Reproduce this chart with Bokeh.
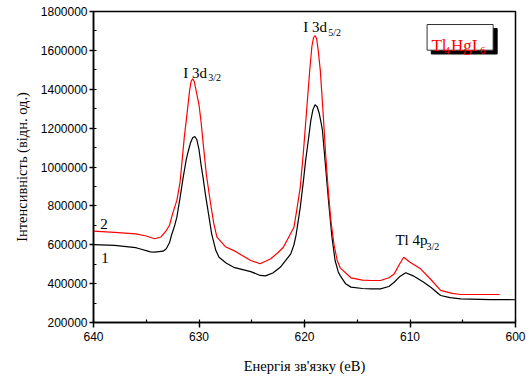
from bokeh.plotting import figure
from bokeh.models import Range1d, SingleIntervalTicker, BasicTickFormatter, Label, BoxAnnotation
from bokeh.embed import file_html
from bokeh.resources import INLINE

# ---- data (binding energy, eV ; intensity, arb. units) ----
energy_1 = [640, 638, 636, 635.8, 634.6, 634.2, 633.4, 633.1, 632.8, 632.6, 632.3, 632.1, 631.8,
            631.5, 631.2, 631.0, 630.8, 630.6, 630.4, 630.2, 630.0, 629.8, 629.6, 629.4, 629.1,
            628.8, 628.4, 628.1, 627.4, 626.7, 625.1, 624.2, 623.7, 623.0, 622.3, 621.3, 621.0,
            620.8, 620.6, 620.4, 620.1, 619.9, 619.6, 619.4, 619.2, 619.0, 618.8, 618.6, 618.4,
            618.3, 618.0, 617.7, 617.4, 617.1, 616.8, 616.6, 616.1, 615.6, 614.5, 613.7, 612.8,
            612.0, 611.5, 611.0, 610.4, 609.7, 608.7, 608.0, 607.1, 606.2, 605.2, 602.4, 600]
intensity_1 = [601000, 597000, 585000, 582000, 563000, 562000, 567000, 579000, 610000, 650000,
               700000, 742000, 840000, 947000, 1040000, 1085000, 1125000, 1150000, 1157000,
               1140000, 1090000, 1010000, 940000, 862000, 760000, 656000, 570000, 536000,
               505000, 484000, 462000, 442000, 440000, 455000, 484000, 553000, 600000, 650000,
               720000, 793000, 930000, 1030000, 1153000, 1240000, 1295000, 1320000, 1310000,
               1275000, 1220000, 1188000, 1000000, 811000, 640000, 519000, 460000, 440000,
               399000, 382000, 375000, 373000, 373000, 385000, 407000, 435000, 456000, 440000,
               407000, 380000, 339000, 328000, 322000, 318000, 317000]

energy_2 = [640, 638, 636, 635.0, 634.2, 633.6, 633.1, 632.8, 632.5, 632.1, 631.8, 631.6, 631.4,
            631.1, 630.9, 630.75, 630.6, 630.45, 630.3, 630.0, 629.8, 629.6, 629.3, 628.9, 628.6,
            628.3, 627.5, 626.7, 625.1, 624.2, 623.2, 622.5, 622.0, 621.0, 620.7, 620.4, 620.1,
            619.9, 619.75, 619.5, 619.3, 619.15, 619.0, 618.85, 618.7, 618.5, 618.25, 618.0,
            617.75, 617.5, 617.2, 616.9, 616.6, 615.6, 614.5, 613.7, 612.8, 612.0, 611.5, 611.0,
            610.6, 610.0, 609.0, 608.0, 607.1, 606.0, 605.2, 603.0, 601.5]
intensity_2 = [670000, 664000, 656000, 645000, 631000, 640000, 673000, 700000, 760000, 828000,
               920000, 1033000, 1150000, 1290000, 1390000, 1440000, 1454000, 1440000, 1400000,
               1320000, 1230000, 1119000, 960000, 811000, 710000, 639000, 590000, 570000,
               519000, 502000, 528000, 560000, 587000, 690000, 790000, 896000, 1080000, 1220000,
               1325000, 1500000, 1620000, 1665000, 1676000, 1660000, 1600000, 1496000, 1290000,
               1068000, 880000, 725000, 600000, 519000, 480000, 430000, 418000, 416000, 416000,
               430000, 450000, 500000, 536000, 510000, 476000, 420000, 365000, 350000, 344000,
               344000, 344000]

x_ticks_interval = 10
y_ticks_interval = 200000

SERIF = "Liberation Serif"
SANS = "Liberation Sans"

p = figure(output_backend="svg", toolbar_location=None,
           frame_width=422, frame_height=311,
           x_range=Range1d(640, 600), y_range=Range1d(200000, 1800000),
           min_border_left=93, min_border_right=14, min_border_top=11, min_border_bottom=60,
           background_fill_color="white", border_fill_color="white")

p.xgrid.visible = False
p.ygrid.visible = False
p.outline_line_color = "black"
p.outline_line_width = 1.5
p.outline_line_alpha = 1

p.xaxis.ticker = SingleIntervalTicker(interval=x_ticks_interval, num_minor_ticks=2)
p.yaxis.ticker = SingleIntervalTicker(interval=y_ticks_interval, num_minor_ticks=2)
p.yaxis.formatter = BasicTickFormatter(use_scientific=False)

for ax in (p.xaxis[0], p.yaxis[0]):
    ax.axis_line_width = 1.5
    ax.axis_line_color = "black"
    ax.major_tick_line_width = 1.5
    ax.minor_tick_line_width = 1.2
    ax.major_tick_in = 0
    ax.major_tick_out = 5
    ax.minor_tick_in = 3
    ax.minor_tick_out = 0
    ax.major_label_text_font = SANS
    ax.major_label_text_font_size = "12px"
    ax.major_label_text_color = "black"
    ax.axis_label_text_font = SERIF
    ax.axis_label_text_font_size = "14.5px"
    ax.axis_label_text_font_style = "normal"
    ax.axis_label_text_color = "black"

p.xaxis.major_label_standoff = 4
p.xaxis.axis_label_standoff = 14
p.yaxis.major_label_standoff = 2
p.yaxis.axis_label_standoff = 8
p.yaxis.major_tick_out = 4

p.xaxis.axis_label = "Енергія зв'язку (eВ)"
p.yaxis.axis_label = "Інтенсивність (відн. од.)"

p.line(energy_1, intensity_1, line_color="black", line_width=1.2)
p.line(energy_2, intensity_2, line_color="#ff0000", line_width=1.2)


def add_label(x, y, text, size, color="black", xo=0, yo=0, units="data"):
    p.add_layout(Label(x=x, y=y, text=text, x_offset=xo, y_offset=yo,
                       x_units=units, y_units=units,
                       text_font=SERIF, text_font_size=size, text_color=color,
                       text_align="left", text_baseline="alphabetic"))


# peak labels (main text + subscript)
add_label(631.49, 1486000, "I 3d", "15px")
add_label(631.49, 1486000, "3/2", "10px", xo=25, yo=-5)
add_label(620.11, 1717700, "I 3d", "15px")
add_label(620.11, 1717700, "5/2", "10px", xo=25, yo=-5)
add_label(611.38, 621900, "Tl 4p", "15px")
add_label(611.38, 621900, "3/2", "10px", xo=31, yo=-6)

# curve numbers
add_label(639.36, 709300, "2", "15px")
add_label(639.27, 534400, "1", "15px")

# compound label box with shadow
p.add_layout(BoxAnnotation(left=607.98, right=601.74, top=1712500, bottom=1581400,
                           fill_color="black", fill_alpha=1, line_color="black", line_alpha=1))
p.add_layout(BoxAnnotation(left=608.38, right=602.12, top=1733100, bottom=1600900,
                           fill_color="white", fill_alpha=1, line_color="#333333",
                           line_width=1, line_alpha=1))
add_label(607.97, 1626600, "Tl", "17px", color="#ff0000")
add_label(607.97, 1626600, "4", "11px", color="#ff0000", xo=13, yo=-5)
add_label(607.97, 1626600, "HgI", "17px", color="#ff0000", xo=19.5)
add_label(607.97, 1626600, "6", "11px", color="#ff0000", xo=48.5, yo=-5)

open("out.html", "w").write(file_html(p, INLINE))
